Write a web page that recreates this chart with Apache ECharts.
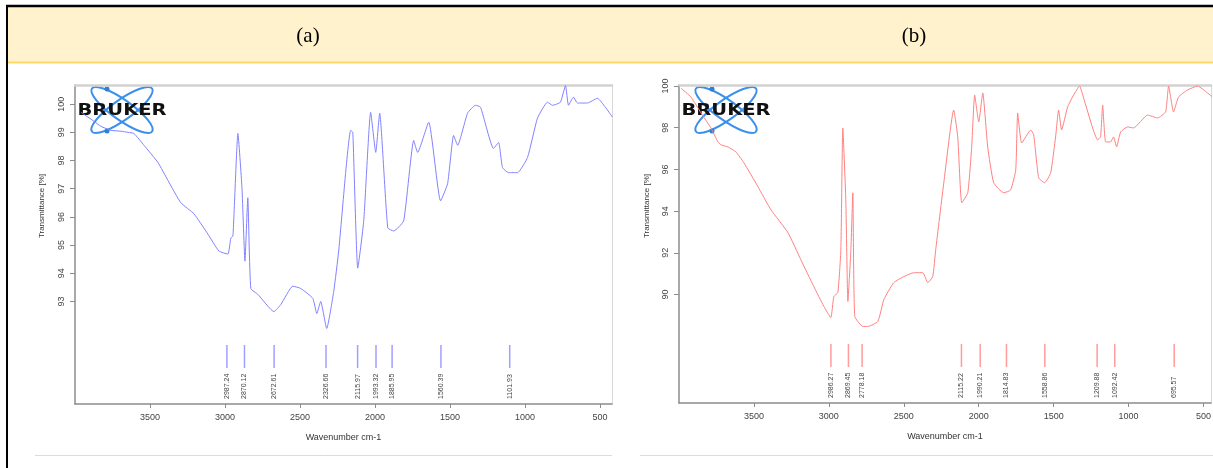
<!DOCTYPE html>
<html>
<head>
<meta charset="utf-8">
<script src="https://cdn.jsdelivr.net/npm/echarts@6/dist/echarts.min.js"></script>
<style>
html, body { margin: 0; padding: 0; background: #fff; }
#main { width: 1213px; height: 468px; }
</style>
</head>
<body>
<div id="main"></div>
<script>
var panelTitles = ['(a)', '(b)'];
var wavenumberTicks = [3500, 3000, 2500, 2000, 1500, 1000, 500];
var ticksA = [93, 94, 95, 96, 97, 98, 99, 100];
var ticksB = [90, 92, 94, 96, 98, 100];

// spectrum (a): [wavenumber, transmittance %]
var specA = [
    [3959, 99.71], [3873, 99.39], [3826, 99.21], [3760, 99.07], [3693, 99.04], [3646, 99.00],
    [3607, 98.96], [3540, 98.54], [3447, 97.93], [3380, 97.29], [3294, 96.50], [3207, 96.11],
    [3114, 95.39], [3041, 94.79], [2981, 94.68], [2961, 95.25], [2947, 95.32], [2914, 98.96],
    [2887, 97.04], [2867, 94.43], [2848, 96.68], [2828, 93.46], [2781, 93.25], [2674, 92.64],
    [2628, 92.89], [2548, 93.54], [2495, 93.46], [2415, 93.11], [2388, 92.57], [2362, 93.00],
    [2322, 92.04], [2275, 93.36], [2242, 94.79], [2162, 99.07], [2148, 99.00], [2115, 94.18],
    [2075, 95.86], [2029, 99.71], [1995, 98.29], [1969, 99.68], [1915, 95.61], [1875, 95.50],
    [1809, 95.86], [1742, 98.71], [1716, 98.29], [1642, 99.36], [1563, 96.57], [1516, 97.18],
    [1476, 98.89], [1449, 98.54], [1383, 99.68], [1330, 99.96], [1296, 99.89], [1210, 98.43],
    [1176, 98.64], [1150, 97.75], [1110, 97.57], [1050, 97.57], [983, 98.11], [917, 99.50],
    [850, 100.07], [817, 99.96], [764, 100.07], [730, 100.66], [710, 99.96], [677, 100.25],
    [650, 100.04], [584, 100.04], [517, 100.21], [464, 99.89], [417, 99.54]
];

// spectrum (b)
var specB = [
    [3987, 99.90], [3920, 99.47], [3853, 98.71], [3787, 97.99], [3740, 97.32], [3720, 97.18],
    [3673, 97.08], [3620, 96.84], [3567, 96.32], [3473, 95.17], [3387, 94.07], [3273, 92.97],
    [3187, 91.67], [3100, 90.38], [3033, 89.43], [2987, 88.90], [2967, 89.90], [2940, 90.10],
    [2920, 92.15], [2907, 97.99], [2887, 94.55], [2873, 89.67], [2853, 92.15], [2840, 94.88],
    [2827, 88.95], [2773, 88.47], [2740, 88.47], [2673, 88.71], [2633, 89.76], [2567, 90.57],
    [2500, 90.86], [2433, 91.05], [2373, 91.05], [2340, 90.57], [2307, 90.86], [2287, 92.15],
    [2233, 95.36], [2167, 98.85], [2140, 97.56], [2113, 94.40], [2073, 94.88], [2047, 97.08],
    [2027, 99.57], [2000, 98.28], [1973, 99.67], [1940, 97.08], [1900, 95.36], [1833, 94.88],
    [1787, 95.02], [1753, 95.98], [1740, 98.71], [1713, 97.27], [1653, 97.89], [1633, 97.66],
    [1600, 95.60], [1560, 95.36], [1520, 95.84], [1487, 97.56], [1467, 98.85], [1447, 97.89],
    [1407, 98.99], [1367, 99.57], [1327, 100.00], [1300, 99.43], [1240, 97.99], [1207, 97.42],
    [1187, 97.56], [1173, 99.09], [1153, 97.32], [1120, 97.32], [1100, 97.56], [1080, 97.08],
    [1053, 97.80], [1007, 98.04], [967, 97.99], [873, 98.61], [807, 98.47], [753, 98.76],
    [733, 100.00], [700, 98.76], [667, 99.47], [607, 99.81], [540, 100.00], [473, 99.67],
    [433, 99.43]
];

var peaksA = [2987.24, 2870.12, 2672.61, 2326.66, 2115.97, 1993.32, 1885.95, 1560.39, 1101.93];
var peaksB = [2986.27, 2869.45, 2778.18, 2115.22, 1990.21, 1814.83, 1558.86, 1209.88, 1092.42, 695.57];

var chartDom = document.getElementById('main');
var myChart = echarts.init(chartDom);
var option;

var font = 'Liberation Sans, Arial, sans-serif';
var yRangeA = [89.36, 100.68];
var yRangeB = [84.8, 100.05];

function peakRenderer(yMin, color) {
    return function (params, api) {
        var p = api.coord([api.value(0), yMin]);
        return {
            type: 'group',
            children: [
                {
                    type: 'line',
                    shape: { x1: p[0], y1: p[1] - 59, x2: p[0], y2: p[1] - 36 },
                    style: { stroke: color, lineWidth: 1.5 }
                },
                {
                    type: 'text',
                    x: p[0],
                    y: p[1] - 5,
                    rotation: Math.PI / 2,
                    style: {
                        text: api.value(0).toFixed(2),
                        fontSize: 7,
                        fontFamily: font,
                        fill: '#444',
                        align: 'left',
                        verticalAlign: 'middle'
                    }
                }
            ]
        };
    };
}

function bottomAxis(grid, min) {
    return {
        gridIndex: grid,
        type: 'value',
        inverse: true,
        min: min,
        max: 4000,
        name: 'Wavenumber cm-1',
        nameLocation: 'middle',
        nameGap: 29,
        nameTextStyle: { fontSize: 9, color: '#333', fontFamily: font },
        axisLine: { onZero: false, lineStyle: { color: '#8c8c8c', width: 1.5 } },
        axisTick: { customValues: wavenumberTicks, length: 4, lineStyle: { color: '#8c8c8c' } },
        axisLabel: {
            customValues: wavenumberTicks,
            formatter: function (v) { return String(v); },
            fontSize: 9, color: '#444', fontFamily: font, margin: 9
        },
        splitLine: { show: false }
    };
}

function topAxis(grid, min) {
    return {
        gridIndex: grid,
        type: 'value',
        position: 'top',
        inverse: true,
        min: min,
        max: 4000,
        axisLine: { onZero: false, lineStyle: { color: '#d2d2d2', width: 2.5 } },
        axisTick: { show: false },
        axisLabel: { show: false },
        splitLine: { show: false }
    };
}

function leftAxis(grid, range, ticks) {
    return {
        gridIndex: grid,
        type: 'value',
        min: range[0],
        max: range[1],
        axisLine: { show: true, onZero: false, lineStyle: { color: '#8c8c8c', width: 1.5 } },
        axisTick: { show: true, customValues: ticks, length: 5, lineStyle: { color: '#8c8c8c' } },
        axisLabel: { customValues: ticks, rotate: 90, fontSize: 9, color: '#444', fontFamily: font, margin: 9 },
        splitLine: { show: false }
    };
}

function rightAxis(grid) {
    return {
        gridIndex: grid,
        type: 'value',
        position: 'right',
        axisLine: { show: true, onZero: false, lineStyle: { color: '#d8d8d8', width: 1 } },
        axisTick: { show: false },
        axisLabel: { show: false },
        splitLine: { show: false }
    };
}

function logo(cx, dotDx) {
    return {
        type: 'group',
        x: cx,
        y: 110,
        z: 100,
        children: [
            {
                type: 'ellipse',
                shape: { cx: 0, cy: 0, rx: 37, ry: 10 },
                rotation: -0.62,
                style: { fill: 'none', stroke: '#3b90ea', lineWidth: 2 }
            },
            {
                type: 'ellipse',
                shape: { cx: 0, cy: 0, rx: 37, ry: 10 },
                rotation: 0.62,
                style: { fill: 'none', stroke: '#3b90ea', lineWidth: 2 }
            },
            { type: 'circle', shape: { cx: dotDx, cy: -21, r: 2.5 }, style: { fill: '#2f7fd8' } },
            { type: 'circle', shape: { cx: dotDx, cy: 21, r: 2.5 }, style: { fill: '#2f7fd8' } },
            {
                type: 'text',
                x: 0,
                y: 1,
                scaleX: 1.3,
                style: {
                    text: 'BRUKER',
                    fontFamily: 'DejaVu Sans',
                    fontWeight: 'bold',
                    fontSize: 15,
                    fill: '#111',
                    align: 'center',
                    verticalAlign: 'middle'
                }
            }
        ]
    };
}

option = {
    animation: false,
    backgroundColor: '#fff',
    grid: [
        { left: 75, top: 85, width: 537, height: 319, outerBoundsMode: 'none' },
        { left: 679, top: 85, width: 532, height: 318, outerBoundsMode: 'none' }
    ],
    xAxis: [bottomAxis(0, 420), bottomAxis(1, 450), topAxis(0, 420), topAxis(1, 450)],
    yAxis: [leftAxis(0, yRangeA, ticksA), leftAxis(1, yRangeB, ticksB), rightAxis(0), rightAxis(1)],
    graphic: [
        { type: 'rect', shape: { x: 8, y: 7, width: 1205, height: 55 }, style: { fill: '#FFF2CC' }, z: 0 },
        { type: 'line', shape: { x1: 8, y1: 62.5, x2: 1213, y2: 62.5 }, style: { stroke: '#FFD966', lineWidth: 2 } },
        { type: 'line', shape: { x1: 6, y1: 6, x2: 1213, y2: 6 }, style: { stroke: '#000', lineWidth: 2.5 } },
        { type: 'line', shape: { x1: 7, y1: 5, x2: 7, y2: 468 }, style: { stroke: '#000', lineWidth: 2 } },
        { type: 'line', shape: { x1: 35, y1: 455.5, x2: 612, y2: 455.5 }, style: { stroke: '#dcdcdc', lineWidth: 1 } },
        { type: 'line', shape: { x1: 640, y1: 455.5, x2: 1213, y2: 455.5 }, style: { stroke: '#dcdcdc', lineWidth: 1 } },
        {
            type: 'text', x: 308, y: 36,
            style: { text: panelTitles[0], fontFamily: 'Liberation Serif, Times New Roman, serif', fontSize: 21, fill: '#000', align: 'center', verticalAlign: 'middle' }
        },
        {
            type: 'text', x: 914, y: 36,
            style: { text: panelTitles[1], fontFamily: 'Liberation Serif, Times New Roman, serif', fontSize: 21, fill: '#000', align: 'center', verticalAlign: 'middle' }
        },
        {
            type: 'text', x: 42, y: 206, rotation: Math.PI / 2,
            style: { text: 'Transmittance [%]', fontFamily: font, fontSize: 8, fill: '#333', align: 'center', verticalAlign: 'middle' }
        },
        {
            type: 'text', x: 647, y: 206, rotation: Math.PI / 2,
            style: { text: 'Transmittance [%]', fontFamily: font, fontSize: 8, fill: '#333', align: 'center', verticalAlign: 'middle' }
        },
        logo(122, -15),
        logo(726, -14)
    ],
    series: [
        {
            name: 'a',
            type: 'line',
            xAxisIndex: 0,
            yAxisIndex: 0,
            showSymbol: false,
            smooth: 0.15,
            lineStyle: { color: '#8282ff', width: 1 },
            data: specA
        },
        {
            name: 'b',
            type: 'line',
            xAxisIndex: 1,
            yAxisIndex: 1,
            showSymbol: false,
            smooth: 0.15,
            lineStyle: { color: '#ff8080', width: 1 },
            data: specB
        },
        {
            type: 'custom',
            xAxisIndex: 0,
            yAxisIndex: 0,
            renderItem: peakRenderer(yRangeA[0], '#a0a0ff'),
            data: peaksA.map(function (v) { return [v, yRangeA[0]]; })
        },
        {
            type: 'custom',
            xAxisIndex: 1,
            yAxisIndex: 1,
            renderItem: peakRenderer(yRangeB[0], '#ff9c9c'),
            data: peaksB.map(function (v) { return [v, yRangeB[0]]; })
        }
    ]
};

option && myChart.setOption(option);
</script>
</body>
</html>
